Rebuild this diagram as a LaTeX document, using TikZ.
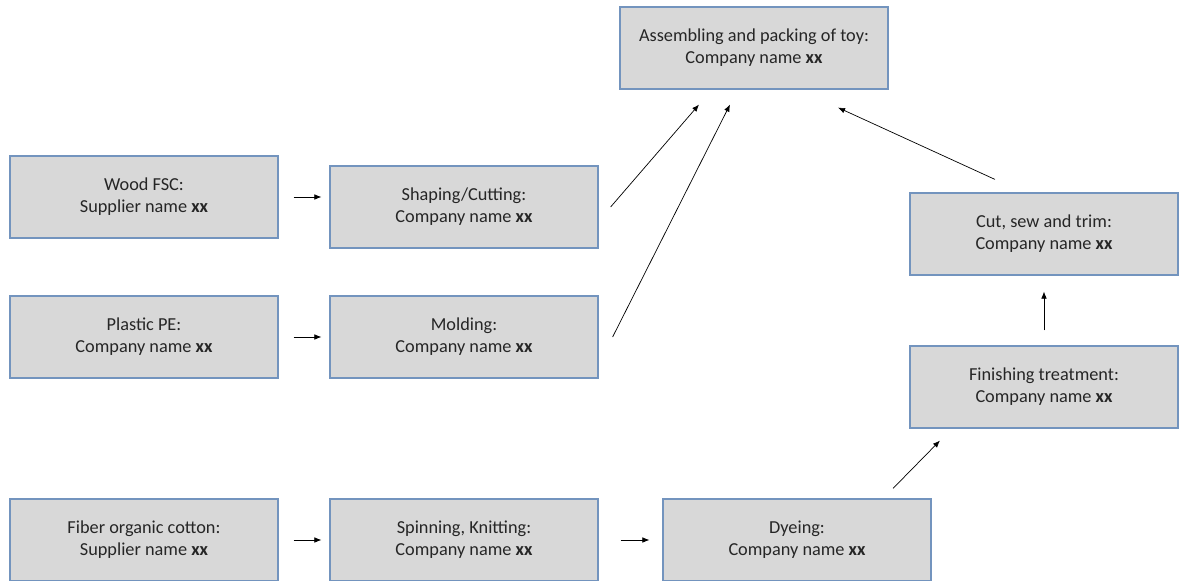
\documentclass[tikz,border=0pt]{standalone}
\usepackage{fontspec}
\setmainfont{Carlito}
\usetikzlibrary{arrows.meta}
\definecolor{boxfill}{RGB}{216,216,216}
\definecolor{boxline}{RGB}{115,148,190}
\begin{document}
\begin{tikzpicture}[x=0.025cm,y=-0.025cm,
  box/.style={draw=boxline,fill=boxfill,line width=0.8pt,minimum width=6.7cm,
    minimum height=2.05cm,align=center,text=black!85,font=\fontsize{13}{15.8}\selectfont},
  arr/.style={-{Latex[length=5pt,width=4pt]},line width=0.5pt}]
  \useasboundingbox (0,0) rectangle (1184,580);
  \clip (0,0) rectangle (1184,580);
  \node[box] (assemble) at (754,48) {Assembling and packing of toy:\\Company name \textbf{xx}};
  \node[box] (wood) at (144,197) {Wood FSC:\\Supplier name \textbf{xx}};
  \node[box] (shaping) at (464,207) {Shaping/Cutting:\\Company name \textbf{xx}};
  \node[box] (plastic) at (144,337) {Plastic PE:\\Company name \textbf{xx}};
  \node[box] (molding) at (464,337) {Molding:\\Company name \textbf{xx}};
  \node[box] (fiber) at (144,540) {Fiber organic cotton:\\Supplier name \textbf{xx}};
  \node[box] (spinning) at (464,540) {Spinning, Knitting:\\Company name \textbf{xx}};
  \node[box] (dyeing) at (797,540) {Dyeing:\\Company name \textbf{xx}};
  \node[box] (finishing) at (1044,387) {Finishing treatment:\\Company name \textbf{xx}};
  \node[box] (cut) at (1044,234) {Cut, sew and trim:\\Company name \textbf{xx}};
  % raw materials to processing
  \draw[arr,shorten <=0.375cm,shorten >=0.2cm] (wood.east) -- (wood.east -| shaping.west);
  \draw[arr,shorten <=0.375cm,shorten >=0.2cm] (plastic.east) -- (molding.west);
  \draw[arr,shorten <=0.375cm,shorten >=0.2cm] (fiber.east) -- (spinning.west);
  \draw[arr,shorten <=0.55cm,shorten >=0.325cm] (spinning.east) -- (dyeing.west);
  % into assembling
  \draw[arr] ([xshift=0.3cm]shaping.east) -- ([xshift=-1.375cm,yshift=-0.375cm]assemble.south);
  \draw[arr] ([xshift=0.35cm]molding.east) -- ([xshift=-0.6cm,yshift=-0.375cm]assemble.south);
  \draw[arr] ([xshift=-1.225cm,yshift=0.325cm]cut.north) -- ([xshift=2.1cm,yshift=-0.45cm]assemble.south);
  % textile line
  \draw[arr] ([xshift=2.4cm,yshift=0.25cm]dyeing.north) -- ([xshift=-2.6cm,yshift=-0.3cm]finishing.south);
  \draw[arr,shorten <=0.375cm,shorten >=0.4cm] (finishing.north) -- (cut.south);
\end{tikzpicture}
\end{document}
